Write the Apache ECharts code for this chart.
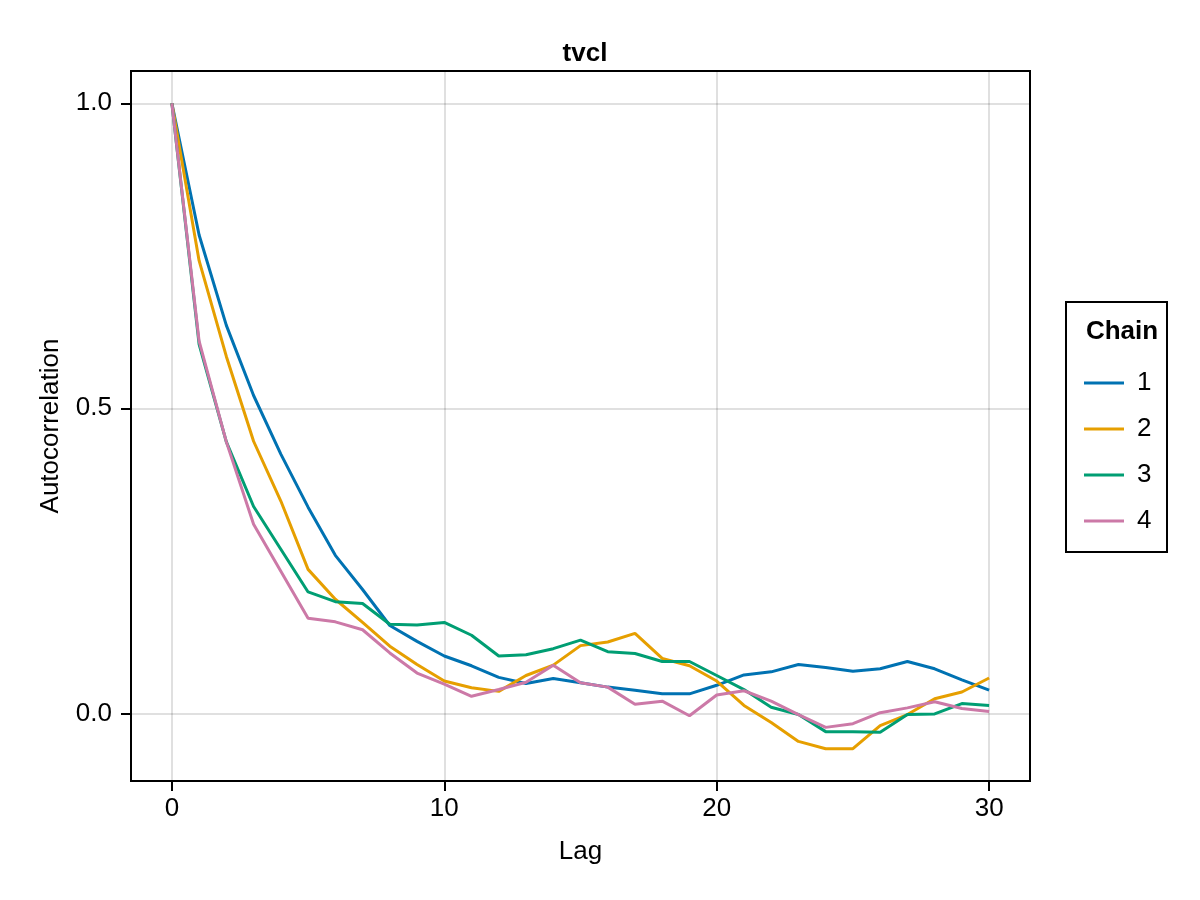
<!DOCTYPE html>
<html>
<head>
  <meta charset="UTF-8">
  <title>tvcl autocorrelation</title>
  <script src="https://cdn.jsdelivr.net/npm/echarts@6/dist/echarts.min.js"></script>
  <style>
    html, body { margin: 0; padding: 0; background: #fff; }
    #main { width: 1200px; height: 900px; }
  </style>
</head>
<body>
<div id="main"></div>
<script type="text/javascript">
  // lags and autocorrelation of each chain
  var lags = [0, 1, 2, 3, 4, 5, 6, 7, 8, 9, 10, 11, 12, 13, 14, 15,
              16, 17, 18, 19, 20, 21, 22, 23, 24, 25, 26, 27, 28, 29, 30];
  var chain1 = [1.0, 0.784, 0.636, 0.521, 0.425, 0.338, 0.259, 0.203, 0.144, 0.118, 0.094,
                0.078, 0.059, 0.049, 0.057, 0.050, 0.043, 0.038, 0.032, 0.032, 0.046,
                0.063, 0.068, 0.080, 0.075, 0.069, 0.073, 0.085, 0.073, 0.055, 0.038];
  var chain2 = [1.0, 0.742, 0.585, 0.446, 0.348, 0.236, 0.187, 0.149, 0.110, 0.080, 0.053,
                0.042, 0.036, 0.062, 0.079, 0.111, 0.117, 0.131, 0.090, 0.078, 0.053,
                0.013, -0.015, -0.046, -0.058, -0.058, -0.020, -0.002, 0.024, 0.035, 0.058];
  var chain3 = [1.0, 0.605, 0.445, 0.339, 0.269, 0.199, 0.183, 0.180, 0.146, 0.145, 0.149,
                0.128, 0.094, 0.096, 0.106, 0.120, 0.101, 0.098, 0.085, 0.085, 0.062,
                0.039, 0.010, -0.002, -0.030, -0.030, -0.031, -0.002, -0.001, 0.016, 0.013];
  var chain4 = [1.0, 0.610, 0.445, 0.310, 0.233, 0.156, 0.150, 0.137, 0.099, 0.066, 0.048,
                0.028, 0.039, 0.051, 0.079, 0.050, 0.043, 0.015, 0.020, -0.004, 0.030,
                0.037, 0.020, -0.002, -0.023, -0.017, 0.001, 0.009, 0.019, 0.008, 0.003];
  var chainNames = ['1', '2', '3', '4'];
  var colors = ['#0072B2', '#E69F00', '#009E73', '#CC79A7'];
  var xTicks = [0, 10, 20, 30];
  var yTicks = [0, 0.5, 1.0];

  var chains = [chain1, chain2, chain3, chain4];
  var font = 'Liberation Sans, Arial, Helvetica, sans-serif';
  var fs = 26;

  // 5% padding round the data, like the original plot
  var allVals = [].concat(chain1, chain2, chain3, chain4);
  var yLo = Math.min.apply(null, allVals), yHi = Math.max.apply(null, allVals);
  var yPad = (yHi - yLo) * 0.05;
  var xPad = (lags[lags.length - 1] - lags[0]) * 0.05;

  var series = chains.map(function (vals, i) {
    return {
      name: chainNames[i],
      type: 'line',
      symbol: 'none',
      lineStyle: { color: colors[i], width: 3 },
      itemStyle: { color: colors[i] },
      data: lags.map(function (l, j) { return [l, vals[j]]; })
    };
  });

  var myChart = echarts.init(document.getElementById('main'));
  var option = {
    backgroundColor: '#fff',
    animation: false,
    textStyle: { fontFamily: font },
    title: [{
      text: 'tvcl',
      left: 580, top: 36, textAlign: 'center',
      textStyle: { fontFamily: font, fontSize: fs, fontWeight: 'bold', color: '#000' }
    }, {
      text: 'Chain',
      left: 1117, top: 314, textAlign: 'center',
      textStyle: { fontFamily: font, fontSize: fs, fontWeight: 'bold', color: '#000' }
    }],
    graphic: [{
      type: 'rect',
      shape: { x: 1066, y: 302, width: 101, height: 250 },
      style: { fill: '#fff', stroke: '#000', lineWidth: 2 },
      z: -1
    }],
    legend: {
      orient: 'vertical',
      left: 1079, top: 365,
      itemWidth: 40, itemHeight: 14, itemGap: 20,
      data: chainNames.map(function (n, i) {
        return { name: n, icon: 'path://M0,0 L40,0 L40,3 L0,3 Z', itemStyle: { color: colors[i] } };
      }),
      textStyle: { fontFamily: font, fontSize: fs, color: '#000', padding: [0, 0, 0, 8] }
    },
    grid: {
      left: 131, right: 170, top: 71, bottom: 119,
      show: true, borderColor: '#000', borderWidth: 2
    },
    xAxis: {
      type: 'value',
      min: lags[0] - xPad, max: lags[lags.length - 1] + xPad,
      name: 'Lag', nameLocation: 'middle', nameGap: 58,
      nameTextStyle: { fontFamily: font, fontSize: fs, color: '#000' },
      axisLine: { show: true, onZero: false, lineStyle: { color: '#000', width: 2 } },
      axisTick: { show: true, inside: false, length: 10, customValues: xTicks,
                  lineStyle: { color: '#000', width: 2 } },
      axisLabel: { customValues: xTicks, margin: 15, fontFamily: font, fontSize: fs, color: '#000' },
      splitLine: { show: true, lineStyle: { color: 'rgba(0,0,0,0.12)', width: 2 } }
    },
    yAxis: {
      type: 'value',
      min: yLo - yPad, max: yHi + yPad,
      name: 'Autocorrelation', nameLocation: 'middle', nameGap: 67,
      nameTextStyle: { fontFamily: font, fontSize: fs, color: '#000' },
      axisLine: { show: true, onZero: false, lineStyle: { color: '#000', width: 2 } },
      axisTick: { show: true, inside: false, length: 10, customValues: yTicks,
                  lineStyle: { color: '#000', width: 2 } },
      axisLabel: {
        customValues: yTicks, margin: 19, fontFamily: font, fontSize: fs, color: '#000',
        formatter: function (v) { return v.toFixed(1); }
      },
      splitLine: { show: true, lineStyle: { color: 'rgba(0,0,0,0.12)', width: 2 } }
    },
    series: series
  };
  myChart.setOption(option);
</script>
</body>
</html>
